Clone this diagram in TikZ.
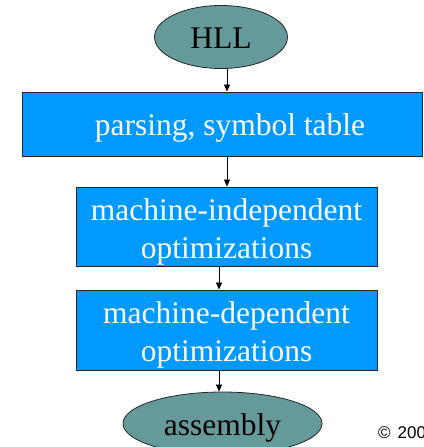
\documentclass[tikz,border=0pt]{standalone}
\usepackage{fontspec}
\setmainfont{Liberation Serif}
\newfontfamily\labelsans{Liberation Sans}
\usetikzlibrary{shapes.geometric,arrows.meta}
\definecolor{stagefill}{HTML}{0099FF}
\definecolor{termfill}{HTML}{669999}
\tikzset{
  stagebox/.style={draw=black!85, line width=1pt, fill=stagefill, inner sep=0pt},
  terminal/.style={ellipse, draw=black!85, line width=0.8pt, fill=termfill, inner sep=0pt},
  bigtext/.style={font=\fontsize{31.5}{38}\selectfont, inner sep=0pt, anchor=base},
  stagetext/.style={bigtext, text=white},
  flow/.style={-{Triangle[length=7pt,width=6pt]}, line width=0.6pt}
}
\begin{document}
\begin{tikzpicture}[x=1pt,y=-1pt]
  \useasboundingbox (0,0) rectangle (423,447);
  % shapes
  \node[terminal, minimum width=133pt, minimum height=63pt] (hll) at (221,37) {};
  \node[stagebox, minimum width=400pt, minimum height=64pt] (parse) at (222,124) {};
  \node[stagebox, minimum width=301pt, minimum height=79pt] (mi) at (226.5,226.5) {};
  \node[stagebox, minimum width=301pt, minimum height=80pt] (md) at (226.5,330) {};
  \node[terminal, minimum width=199pt, minimum height=63pt] (asm) at (222.5,423.5) {};
  % texts
  \node[bigtext] (hllt) at (221,48) {HLL};
  \node[stagetext] (parset) at (230,135) {parsing, symbol table};
  \node[stagetext] (mit1) at (226.5,220) {machine-independent};
  \node[stagetext] (mit2) at (226.5,258) {optimizations};
  \node[stagetext] (mdt1) at (226.5,323) {machine-dependent};
  \node[stagetext] (mdt2) at (226.5,361) {optimizations};
  \node[bigtext] (asmt) at (222.5,435) {assembly};
  \node[anchor=base west, font=\labelsans\fontsize{17}{20}\selectfont, inner sep=0pt] (copy) at (378,438) {\textcopyright\hspace{7pt}2005};
  % connectors
  \draw[flow] (hll.south -| 227,0) -- (parse.north -| 227,0);
  \draw[flow] (parse.south -| 227,0) -- (mi.north -| 227,0);
  \draw[flow] (mi.south -| 219,0) -- (md.north -| 219,0);
  \draw[flow] (md.south -| 219,0) -- (asm.north -| 219,0);
\end{tikzpicture}
\end{document}
